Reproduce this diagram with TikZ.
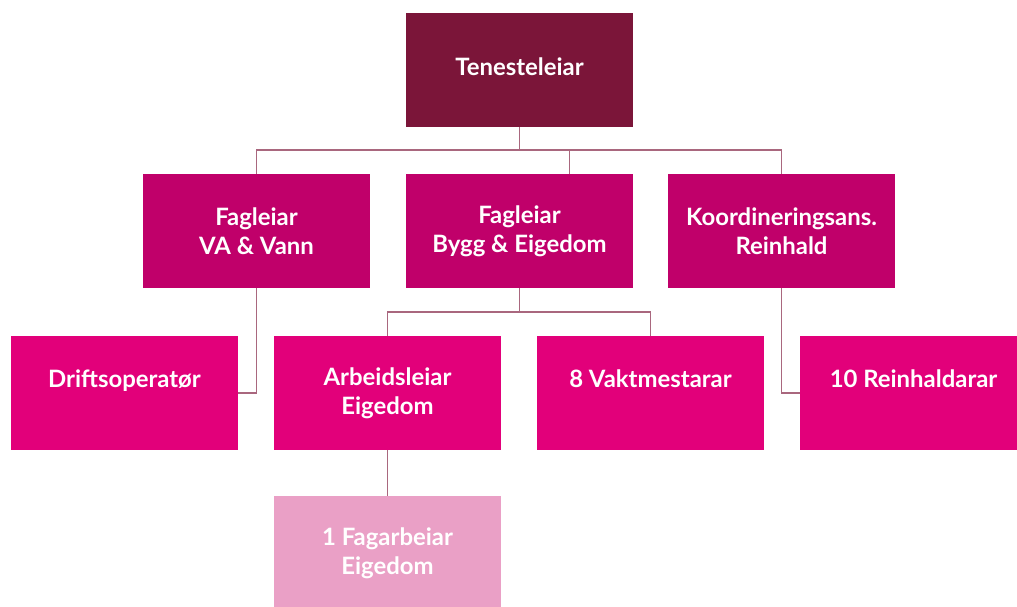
\documentclass[tikz,border=0pt]{standalone}
\usepackage{fontspec}
\setmainfont{Lato}
\usepackage{xcolor}
\usetikzlibrary{positioning}

\definecolor{wine}{HTML}{7B1539}
\definecolor{plum}{HTML}{C0006A}
\definecolor{magenta}{HTML}{E2007A}
\definecolor{rose}{HTML}{EAA0C6}

\newcommand{\upline}[1]{\raisebox{20.5pt}{#1}}

\begin{document}
\begin{tikzpicture}[
  x=0.025cm, y=-0.025cm,
  box/.style={rectangle, minimum width=5.675cm, minimum height=2.85cm,
              inner sep=0pt, align=center, text=white,
              font=\bfseries\fontsize{17}{20.5}\selectfont},
  link/.style={draw=wine!65, line width=0.8pt}
]
\clip (0,0) rectangle (1017,606);
\fill[white] (0,0) rectangle (1017,606);

% top level
\node[box, fill=wine]    (teneste)  at (519.5,70)  {\raisebox{5pt}{Tenesteleiar}};

% second row
\node[box, fill=plum]    (va)       at (256.5,231) {Fagleiar\\VA \& Vann};
\node[box, fill=plum]    (bygg)     at (519.5,231) {Fagleiar\\Bygg \& Eigedom};
\node[box, fill=plum]    (koord)    at (781.5,231) {Koordineringsans.\\Reinhald};

% third row
\node[box, fill=magenta] (drift)    at (124.5,393) {\upline{Driftsoperatør}};
\node[box, fill=magenta] (arbeid)   at (387.5,393) {Arbeidsleiar\\Eigedom};
\node[box, fill=magenta] (vakt)     at (650.5,393) {\upline{8 Vaktmestarar}};
\node[box, fill=magenta] (reinhald) at (913.5,393) {\upline{10 Reinhaldarar}};

% bottom
\node[box, fill=rose]    (fagarb)   at (387.5,553.5) {1 Fagarbeiar\\Eigedom};

\coordinate (bus1) at (519.5,150);
\coordinate (bus2) at (519.5,312);

\draw[link] (teneste.south) -- (bus1);
\draw[link] (va.north) |- (bus1);
\draw[link] (koord.north) |- (bus1);
\draw[link] ([xshift=1.24cm]bygg.north) |- (bus1);

\draw[link] (bygg.south) -- (bus2);
\draw[link] (arbeid.north) |- (bus2);
\draw[link] (vakt.north) |- (bus2);

\draw[link] (va.south) |- (drift.east);
\draw[link] (koord.south) |- (reinhald.west);
\draw[link] (arbeid.south) -- (fagarb.north);
\end{tikzpicture}
\end{document}
